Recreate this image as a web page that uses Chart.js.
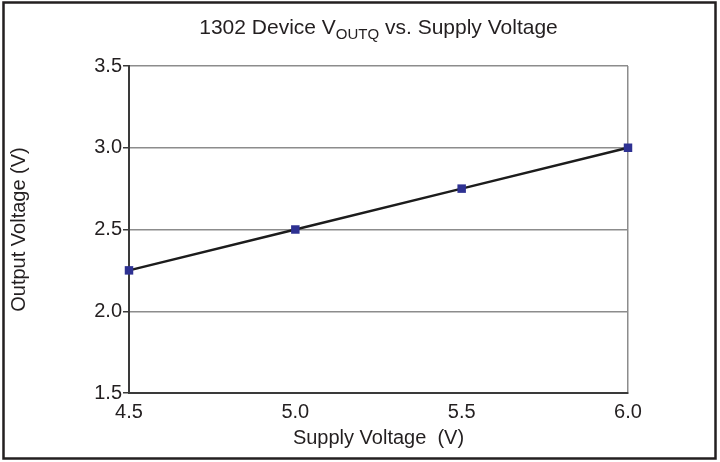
<!DOCTYPE html>
<html>
<head>
<meta charset="utf-8">
<script src="https://cdn.jsdelivr.net/npm/chart.js@4/dist/chart.umd.min.js"></script>
<style>
    html, body { margin: 0; padding: 0; background: #fff; }
    #wrap { width: 720px; height: 462px; }
</style>
</head>
<body>
<div id="wrap"><canvas id="vout-chart"></canvas></div>
<script>
// Values
const supplyVoltage = [4.5, 5.0, 5.5, 6.0];
const outputVoltage = [2.25, 2.5, 2.75, 3.0];
const yTicks = [1.5, 2.0, 2.5, 3.0, 3.5];
const xTicks = [4.5, 5.0, 5.5, 6.0];

const FONT = "'Liberation Sans', Arial, Helvetica, sans-serif";

// Title with subscript V_OUTQ, drawn by hand since Chart.js titles can't do it
const titleWithSub = {
    id: "titleWithSub",
    afterDraw(c) {
        const ctx = c.ctx;
        const parts = [
            { text: "1302 Device V", size: 21, dy: 0 },
            { text: "OUTQ", size: 15, dy: 5 },
            { text: " vs. Supply Voltage", size: 21, dy: 0 },
        ];
        ctx.save();
        ctx.fillStyle = "#231f20";
        ctx.textBaseline = "alphabetic";
        let total = 0;
        parts.forEach((p) => {
            ctx.font = p.size + "px " + FONT;
            p.w = ctx.measureText(p.text).width;
            total += p.w;
        });
        const area = c.chartArea;
        let x = (area.left + area.right) / 2 - total / 2;
        const baseY = 34;
        parts.forEach((p) => {
            ctx.font = p.size + "px " + FONT;
            ctx.fillText(p.text, x, baseY + p.dy);
            x += p.w;
        });
        ctx.restore();
    },
};

// Outer frame around the whole figure
const outerFrame = {
    id: "outerFrame",
    afterDraw(c) {
        const ctx = c.ctx;
        ctx.save();
        ctx.strokeStyle = "#231f20";
        ctx.lineWidth = 2.5;
        ctx.strokeRect(3.5, 2.5, 712, 456);
        ctx.restore();
    },
};

const ctx = document.getElementById("vout-chart");
new Chart(ctx, {
    type: "line",
    data: {
        datasets: [
            {
                label: "VOUTQ",
                data: supplyVoltage.map((v, i) => ({ x: v, y: outputVoltage[i] })),
                borderColor: "#1c1c1c",
                borderWidth: 2.5,
                pointStyle: "rect",
                pointRadius: 6,
                pointBorderWidth: 0,
                pointBackgroundColor: "#2e3192",
                pointBorderColor: "#2e3192",
                tension: 0,
                clip: false,
            },
        ],
    },
    options: {
        responsive: true,
        maintainAspectRatio: false,
        animation: false,
        layout: {
            padding: { top: 66, right: 92, left: 0, bottom: 0 },
        },
        scales: {
            x: {
                type: "linear",
                min: 4.5,
                max: 6.0,
                afterBuildTicks: (s) => {
                    s.ticks = xTicks.map((v) => ({ value: v }));
                },
                afterFit: (s) => {
                    s.height = 69;
                },
                border: { display: true, color: "#3a3a3a", width: 2 },
                grid: {
                    drawTicks: false,
                    lineWidth: 1.5,
                    color: (g) => (g.tick && g.tick.value === 6.0 ? "#8c8c8c" : "rgba(0,0,0,0)"),
                },
                ticks: {
                    padding: 7,
                    color: "#231f20",
                    font: { family: FONT, size: 20 },
                    callback: (v) => Number(v).toFixed(1),
                },
                title: {
                    display: true,
                    text: "Supply Voltage  (V)",
                    color: "#231f20",
                    font: { family: FONT, size: 20 },
                    padding: { top: 12, bottom: 12 },
                },
            },
            y: {
                min: 1.5,
                max: 3.5,
                afterBuildTicks: (s) => {
                    s.ticks = yTicks.map((v) => ({ value: v }));
                },
                afterFit: (s) => {
                    s.width = 129;
                },
                border: { display: true, color: "#3a3a3a", width: 2 },
                grid: {
                    lineWidth: 1.5,
                    color: "#8c8c8c",
                    tickColor: "#3a3a3a",
                    tickLength: 6,
                },
                ticks: {
                    padding: 1,
                    color: "#231f20",
                    font: { family: FONT, size: 20 },
                    callback: (v) => Number(v).toFixed(1),
                },
                title: {
                    display: true,
                    text: "Output Voltage (V)",
                    color: "#231f20",
                    font: { family: FONT, size: 20 },
                    padding: { top: 7, bottom: 7 },
                },
            },
        },
        plugins: {
            legend: { display: false },
            tooltip: { enabled: false },
            title: { display: false },
        },
    },
    plugins: [titleWithSub, outerFrame],
});
</script>
</body>
</html>
